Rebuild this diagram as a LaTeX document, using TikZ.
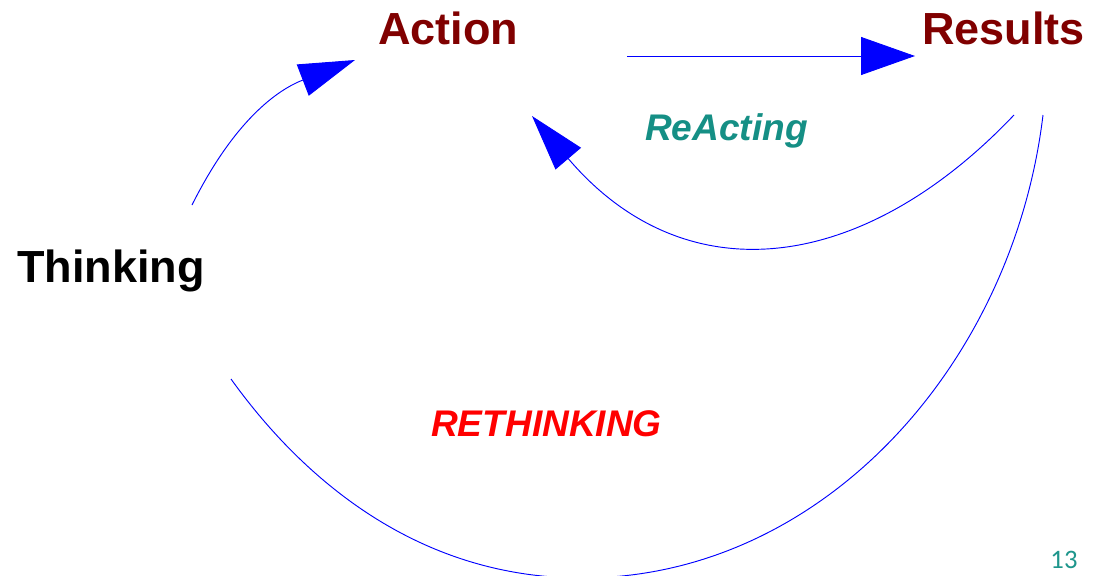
\documentclass[tikz,border=0pt]{standalone}
\usepackage{fontspec}
\setmainfont{Liberation Sans}
\newfontfamily\pgfont{Carlito}
\usetikzlibrary{arrows.meta}
\definecolor{darkred}{RGB}{128,0,0}
\definecolor{tealtxt}{RGB}{21,143,133}
\definecolor{pgteal}{RGB}{30,150,140}
\tikzset{
  lbl/.style={inner sep=0pt, anchor=base, font=\fontsize{33.75}{40}\selectfont\bfseries},
  loop/.style={inner sep=0pt, anchor=base, font=\fontsize{27.8}{33}\selectfont\bfseries\itshape},
  conn/.style={draw=blue, line width=0.7pt},
  bigtip/.style={-{Triangle[length=40.5pt,width=28.5pt]}, blue},
  curvtip/.style={-{Triangle[length=42pt,width=25pt]}, blue}
}
\begin{document}
\begin{tikzpicture}[x=0.75pt,y=-0.75pt]
\useasboundingbox (0,0) rectangle (1103,575);
\clip (0,0) rectangle (1103,575);
\fill[white] (0,0) rectangle (1103,575);

\node[lbl, text=darkred] (act) at (448,44) {Action};
\node[lbl, text=darkred] (res) at (1003.5,44) {Results};
\node[lbl, text=black] (thk) at (111,282) {Thinking};
\node[loop, text=tealtxt] (react) at (726.5,140) {ReActing};
\node[loop, text=red] (rethink) at (546.5,436) {RETHINKING};
\node[inner sep=0pt, anchor=base, font=\pgfont\fontsize{20}{24}\selectfont, text=pgteal] (pg) at (1064,568) {13};

\coordinate (a1s) at (627,56);
\coordinate (a1e) at (915,56);
\coordinate (t1s) at (192,205);
\coordinate (t1e) at (355,60);
\coordinate (r1s) at (1014,115);
\coordinate (r1e) at (532,116);
\coordinate (k1s) at (1043,115);
\coordinate (k1m) at (582,578);
\coordinate (k1e) at (231,379);

% Action -> Results
\draw[conn, bigtip] (a1s) -- (a1e);
% Thinking -> Action
\draw[conn, curvtip] (t1s) .. controls (234,121) and (277,90) .. (t1e);
% Results -> Action (ReActing)
\draw[conn, curvtip] (r1s) .. controls (864,273) and (686,297) .. (r1e);
% Results -> Thinking (RETHINKING)
\draw[conn] (k1s) .. controls (1013,365) and (822,578) .. (k1m)
            .. controls (412,578) and (297.7,472) .. (k1e);
\end{tikzpicture}
\end{document}
